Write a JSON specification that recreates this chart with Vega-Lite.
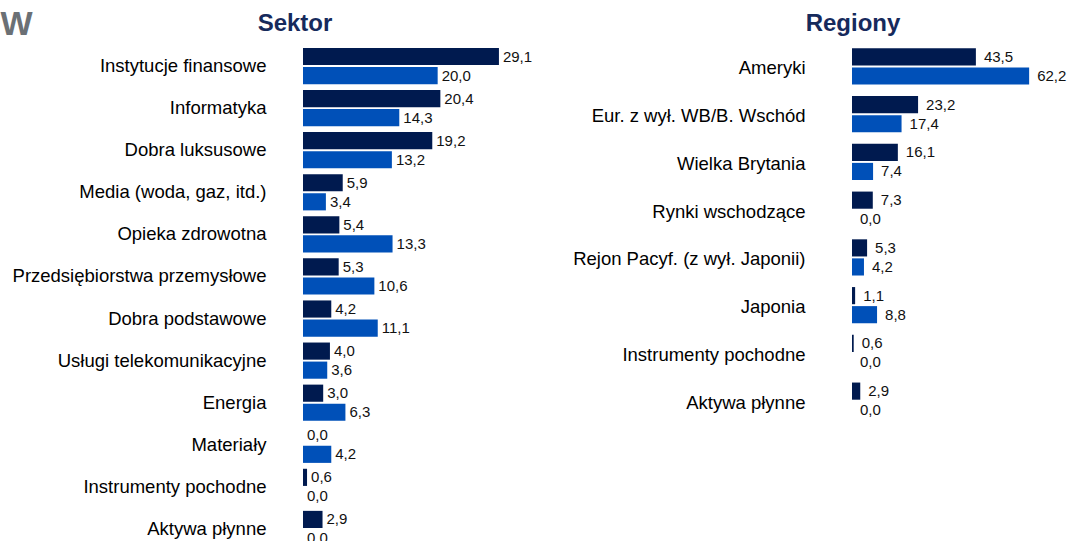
{
  "$schema": "https://vega.github.io/schema/vega-lite/v6.json",
  "padding": {"left": 0, "top": 7, "right": 0, "bottom": 0},
  "spacing": 39,
  "config": {
    "view": {"stroke": null},
    "font": "Liberation Sans",
    "locale": {"number": {"decimal": ",", "thousands": " ", "grouping": [3], "currency": ["", " zł"]}},
    "title": {"fontSize": 24, "fontWeight": "bold", "color": "#162a5c", "font": "Liberation Sans", "frame": "group"}
  },
  "datasets": {
    "sektor": [
      {"kategoria": "Instytucje finansowe", "seria": "Fundusz", "wartosc": 29.1},
      {"kategoria": "Instytucje finansowe", "seria": "Benchmark", "wartosc": 20.0},
      {"kategoria": "Informatyka", "seria": "Fundusz", "wartosc": 20.4},
      {"kategoria": "Informatyka", "seria": "Benchmark", "wartosc": 14.3},
      {"kategoria": "Dobra luksusowe", "seria": "Fundusz", "wartosc": 19.2},
      {"kategoria": "Dobra luksusowe", "seria": "Benchmark", "wartosc": 13.2},
      {"kategoria": "Media (woda, gaz, itd.)", "seria": "Fundusz", "wartosc": 5.9},
      {"kategoria": "Media (woda, gaz, itd.)", "seria": "Benchmark", "wartosc": 3.4},
      {"kategoria": "Opieka zdrowotna", "seria": "Fundusz", "wartosc": 5.4},
      {"kategoria": "Opieka zdrowotna", "seria": "Benchmark", "wartosc": 13.3},
      {"kategoria": "Przedsiębiorstwa przemysłowe", "seria": "Fundusz", "wartosc": 5.3},
      {"kategoria": "Przedsiębiorstwa przemysłowe", "seria": "Benchmark", "wartosc": 10.6},
      {"kategoria": "Dobra podstawowe", "seria": "Fundusz", "wartosc": 4.2},
      {"kategoria": "Dobra podstawowe", "seria": "Benchmark", "wartosc": 11.1},
      {"kategoria": "Usługi telekomunikacyjne", "seria": "Fundusz", "wartosc": 4.0},
      {"kategoria": "Usługi telekomunikacyjne", "seria": "Benchmark", "wartosc": 3.6},
      {"kategoria": "Energia", "seria": "Fundusz", "wartosc": 3.0},
      {"kategoria": "Energia", "seria": "Benchmark", "wartosc": 6.3},
      {"kategoria": "Materiały", "seria": "Fundusz", "wartosc": 0.0},
      {"kategoria": "Materiały", "seria": "Benchmark", "wartosc": 4.2},
      {"kategoria": "Instrumenty pochodne", "seria": "Fundusz", "wartosc": 0.6},
      {"kategoria": "Instrumenty pochodne", "seria": "Benchmark", "wartosc": 0.0},
      {"kategoria": "Aktywa płynne", "seria": "Fundusz", "wartosc": 2.9},
      {"kategoria": "Aktywa płynne", "seria": "Benchmark", "wartosc": 0.0}
    ],
    "regiony": [
      {"kategoria": "Ameryki", "seria": "Fundusz", "wartosc": 43.5},
      {"kategoria": "Ameryki", "seria": "Benchmark", "wartosc": 62.2},
      {"kategoria": "Eur. z wył. WB/B. Wschód", "seria": "Fundusz", "wartosc": 23.2},
      {"kategoria": "Eur. z wył. WB/B. Wschód", "seria": "Benchmark", "wartosc": 17.4},
      {"kategoria": "Wielka Brytania", "seria": "Fundusz", "wartosc": 16.1},
      {"kategoria": "Wielka Brytania", "seria": "Benchmark", "wartosc": 7.4},
      {"kategoria": "Rynki wschodzące", "seria": "Fundusz", "wartosc": 7.3},
      {"kategoria": "Rynki wschodzące", "seria": "Benchmark", "wartosc": 0.0},
      {"kategoria": "Rejon Pacyf. (z wył. Japonii)", "seria": "Fundusz", "wartosc": 5.3},
      {"kategoria": "Rejon Pacyf. (z wył. Japonii)", "seria": "Benchmark", "wartosc": 4.2},
      {"kategoria": "Japonia", "seria": "Fundusz", "wartosc": 1.1},
      {"kategoria": "Japonia", "seria": "Benchmark", "wartosc": 8.8},
      {"kategoria": "Instrumenty pochodne", "seria": "Fundusz", "wartosc": 0.6},
      {"kategoria": "Instrumenty pochodne", "seria": "Benchmark", "wartosc": 0.0},
      {"kategoria": "Aktywa płynne", "seria": "Fundusz", "wartosc": 2.9},
      {"kategoria": "Aktywa płynne", "seria": "Benchmark", "wartosc": 0.0}
    ]
  },
  "hconcat": [
    {
      "data": {"name": "sektor"},
      "width": 202,
      "height": 505,
      "title": {"text": "Sektor", "dx": -109, "offset": -29},
      "encoding": {
        "y": {
          "field": "kategoria", "type": "nominal", "sort": null,
          "scale": {"paddingInner": 0.14, "paddingOuter": 0.07},
          "axis": {
            "title": "W", "titleAngle": 0, "titleX": -303, "titleY": -11,
            "titleAlign": "left", "titleBaseline": "alphabetic",
            "titleFontSize": 34, "titleFontWeight": "bold", "titleColor": "#6b7075",
            "labelFontSize": 18.5, "labelColor": "#000000", "labelPadding": 37, "labelLimit": 400,
            "domain": false, "ticks": false
          }
        },
        "yOffset": {"field": "seria", "type": "nominal", "sort": null, "scale": {"paddingInner": 0.1}},
        "x": {"field": "wartosc", "type": "quantitative", "scale": {"domain": [0, 30]}, "axis": null}
      },
      "layer": [
        {
          "mark": {"type": "bar"},
          "encoding": {
            "color": {"field": "seria", "type": "nominal", "scale": {"domain": ["Fundusz", "Benchmark"], "range": ["#001a4f", "#0050b8"]}, "legend": null}
          }
        },
        {
          "mark": {"type": "text", "align": "left", "baseline": "middle", "dx": 4, "fontSize": 15, "color": "#111111"},
          "encoding": {"text": {"field": "wartosc", "type": "quantitative", "format": ".1f"}}
        }
      ]
    },
    {
      "data": {"name": "regiony"},
      "width": 178,
      "height": 381,
      "title": {"text": "Regiony", "dx": -88, "offset": 9},
      "encoding": {
        "y": {
          "field": "kategoria", "type": "nominal", "sort": null,
          "scale": {"paddingInner": 0.16, "paddingOuter": 0.07},
          "axis": {
            "title": null,
            "labelFontSize": 18.5, "labelColor": "#000000", "labelPadding": 47, "labelLimit": 400,
            "domain": false, "ticks": false
          }
        },
        "yOffset": {"field": "seria", "type": "nominal", "sort": null, "scale": {"paddingInner": 0.1}},
        "x": {"field": "wartosc", "type": "quantitative", "scale": {"domain": [0, 62.5]}, "axis": null}
      },
      "layer": [
        {
          "mark": {"type": "bar"},
          "encoding": {
            "color": {"field": "seria", "type": "nominal", "scale": {"domain": ["Fundusz", "Benchmark"], "range": ["#001a4f", "#0050b8"]}, "legend": null}
          }
        },
        {
          "mark": {"type": "text", "align": "left", "baseline": "middle", "dx": 8, "fontSize": 15, "color": "#111111"},
          "encoding": {"text": {"field": "wartosc", "type": "quantitative", "format": ".1f"}}
        }
      ]
    }
  ]
}
